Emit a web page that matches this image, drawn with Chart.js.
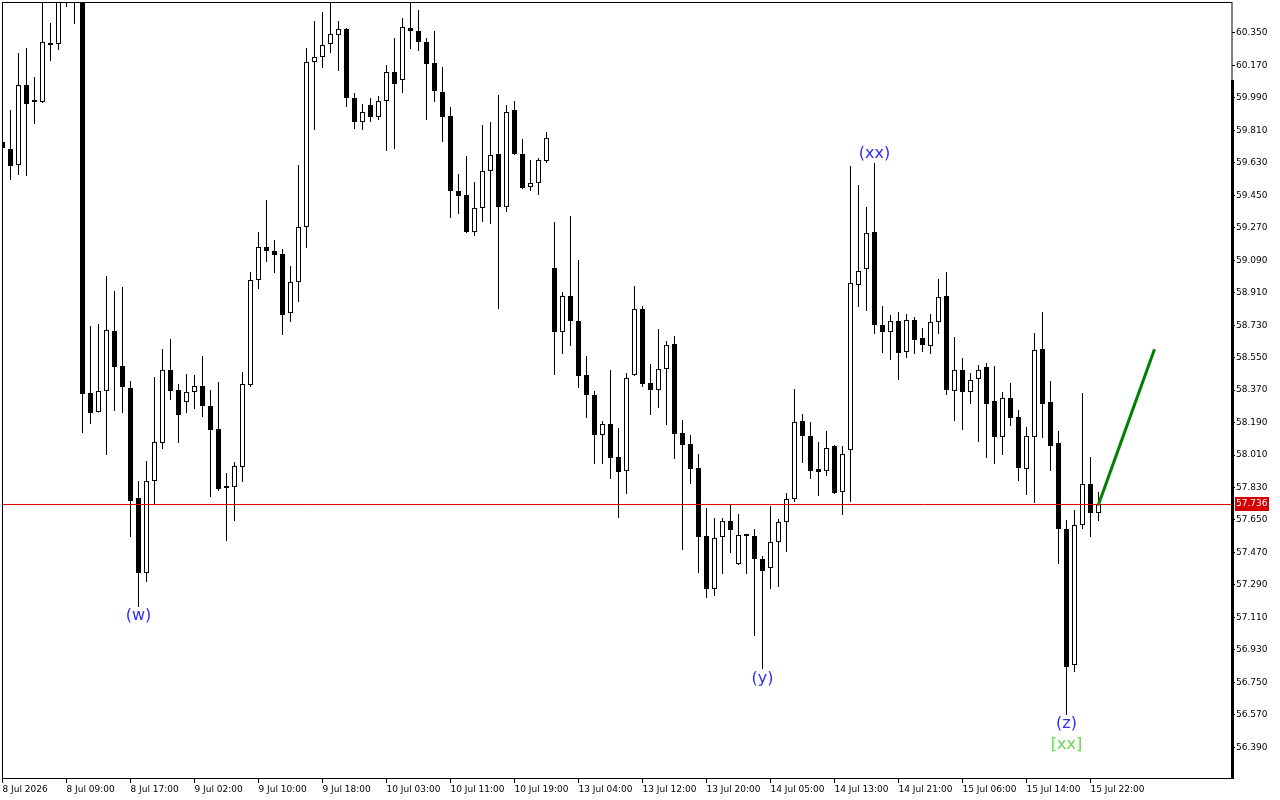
<!DOCTYPE html>
<html>
<head>
<meta charset="utf-8">
<title>Chart</title>
<script src="https://cdn.jsdelivr.net/npm/chart.js@4.4.1/dist/chart.umd.min.js"></script>
<style>
	html, body { margin: 0; padding: 0; background: #ffffff; }
	#mycanvas { display: block; }
</style>
</head>
<body>
<canvas id="mycanvas" width="1280" height="800"></canvas>
<script>
// hourly candles, 8 Jul 2026 00:00 .. 15 Jul 2026 23:00
var openData = [
	59.745, 59.707, 59.618, 60.061, 59.973, 59.967, 60.294, 60.289, 60.560, 60.580,
	60.560, 58.354, 58.249, 58.365, 58.698, 58.504, 58.382, 57.772, 57.356, 57.866,
	58.077, 58.482, 58.371, 58.304, 58.360, 58.393, 58.282, 58.154, 57.839, 57.833,
	57.944, 58.398, 58.980, 59.163, 59.141, 59.125, 58.797, 58.969, 59.274, 60.189,
	60.217, 60.289, 60.338, 60.372, 59.989, 59.856, 59.950, 59.884, 59.973, 60.133,
	60.089, 60.377, 60.361, 60.300, 60.183, 60.023, 59.890, 59.474, 59.452, 59.246,
	59.380, 59.585, 59.679, 59.385, 59.923, 59.679, 59.496, 59.518, 59.640, 59.047,
	58.692, 58.892, 58.753, 58.454, 58.343, 58.121, 58.182, 57.999, 57.922, 58.454,
	58.820, 58.409, 58.371, 58.487, 58.626, 58.132, 58.071, 57.938, 57.561, 57.268,
	57.556, 57.645, 57.406, 57.567, 57.561, 57.434, 57.384, 57.528, 57.639, 57.766,
	58.199, 58.116, 57.933, 57.922, 58.060, 57.805, 58.038, 58.953, 59.041, 59.246,
	58.731, 58.692, 58.753, 58.581, 58.759, 58.659, 58.615, 58.748, 58.892, 58.365,
	58.482, 58.360, 58.432, 58.498, 58.310, 58.110, 58.326, 58.221, 57.933, 58.110,
	58.598, 58.304, 58.077, 57.600, 56.846, 57.622, 57.850, 57.689
];
var highData = [
	59.756, 59.923, 60.239, 60.266, 60.106, 60.560, 60.405, 60.577, 60.620, 60.630,
	60.600, 58.725, 58.737, 59.003, 58.919, 58.942, 58.421, 57.866, 57.977, 58.443,
	58.598, 58.653, 58.404, 58.459, 58.454, 58.559, 58.371, 58.415, 57.911, 57.972,
	58.470, 59.025, 59.246, 59.424, 59.202, 59.152, 59.058, 59.618, 60.266, 60.416,
	60.466, 60.527, 60.416, 60.377, 60.017, 59.956, 59.989, 60.000, 60.172, 60.322,
	60.433, 60.521, 60.477, 60.322, 60.361, 60.161, 59.939, 59.568, 59.668, 59.524,
	59.840, 59.856, 60.006, 59.950, 59.973, 59.762, 59.646, 59.657, 59.801, 59.302,
	58.914, 59.335, 59.091, 58.559, 58.365, 58.199, 58.482, 58.160, 58.465, 58.947,
	58.836, 58.515, 58.709, 58.642, 58.670, 58.204, 58.121, 58.016, 57.717, 57.661,
	57.661, 57.733, 57.683, 57.572, 57.600, 57.450, 57.728, 57.656, 57.800, 58.376,
	58.238, 58.193, 58.082, 58.143, 58.066, 58.060, 59.612, 59.507, 59.385, 59.629,
	58.836, 58.786, 58.803, 58.792, 58.775, 58.714, 58.792, 58.986, 59.025, 58.664,
	58.548, 58.465, 58.509, 58.520, 58.504, 58.360, 58.409, 58.260, 58.166, 58.687,
	58.803, 58.421, 58.143, 57.650, 57.705, 58.354, 57.999, 57.805
];
var lowData = [
	59.701, 59.535, 59.562, 59.557, 59.845, 59.962, 60.194, 60.255, 60.494, 60.399,
	58.132, 58.182, 58.246, 58.010, 58.254, 58.243, 57.556, 57.168, 57.306, 57.739,
	58.044, 58.315, 58.077, 58.243, 58.265, 58.221, 57.778, 57.811, 57.534, 57.645,
	57.861, 58.387, 58.931, 59.080, 59.019, 58.676, 58.748, 58.858, 59.158, 59.812,
	60.156, 60.239, 60.139, 59.939, 59.817, 59.812, 59.856, 59.867, 59.695, 59.707,
	60.017, 60.261, 60.250, 59.867, 59.967, 59.745, 59.324, 59.346, 59.241, 59.224,
	59.302, 59.291, 58.820, 59.357, 59.673, 59.485, 59.474, 59.452, 59.629, 58.454,
	58.570, 58.615, 58.382, 58.215, 57.960, 57.960, 57.877, 57.661, 57.794, 58.448,
	58.387, 58.232, 58.271, 58.177, 57.988, 57.484, 57.850, 57.356, 57.218, 57.229,
	57.351, 57.467, 57.401, 57.351, 57.007, 56.824, 57.268, 57.279, 57.473, 57.750,
	57.966, 57.877, 57.783, 57.894, 57.794, 57.678, 57.750, 58.831, 58.809, 58.681,
	58.576, 58.537, 58.426, 58.548, 58.570, 58.581, 58.570, 58.681, 58.343, 58.199,
	58.149, 58.293, 58.082, 57.994, 57.960, 58.010, 58.171, 57.866, 57.789, 57.744,
	58.105, 57.922, 57.406, 56.569, 56.807, 57.600, 57.556, 57.645
];
var closeData = [
	59.712, 59.612, 60.061, 59.956, 59.967, 60.300, 60.283, 60.544, 60.530, 60.535,
	58.348, 58.243, 58.365, 58.703, 58.498, 58.387, 57.755, 57.356, 57.866, 58.082,
	58.482, 58.365, 58.232, 58.360, 58.393, 58.282, 58.149, 57.822, 57.827, 57.949,
	58.404, 58.980, 59.163, 59.141, 59.119, 58.786, 58.969, 59.274, 60.189, 60.217,
	60.283, 60.344, 60.372, 59.989, 59.856, 59.912, 59.884, 59.973, 60.133, 60.067,
	60.383, 60.361, 60.300, 60.178, 60.028, 59.884, 59.474, 59.446, 59.246, 59.380,
	59.585, 59.673, 59.385, 59.912, 59.679, 59.490, 59.518, 59.646, 59.768, 58.692,
	58.892, 58.753, 58.448, 58.343, 58.121, 58.182, 57.994, 57.916, 58.437, 58.820,
	58.404, 58.371, 58.487, 58.620, 58.127, 58.066, 57.933, 57.556, 57.268, 57.550,
	57.645, 57.594, 57.567, 57.561, 57.434, 57.367, 57.528, 57.639, 57.766, 58.193,
	58.116, 57.922, 57.916, 58.049, 57.800, 58.016, 58.964, 59.030, 59.241, 58.731,
	58.692, 58.753, 58.576, 58.759, 58.648, 58.620, 58.748, 58.886, 58.371, 58.482,
	58.360, 58.426, 58.482, 58.293, 58.110, 58.326, 58.215, 57.938, 58.116, 58.592,
	58.293, 58.060, 57.600, 56.835, 57.622, 57.850, 57.689, 57.736
];

// one label every 8 bars
var tickLabels = [
	'8 Jul 2026', '8 Jul 09:00', '8 Jul 17:00', '9 Jul 02:00', '9 Jul 10:00', '9 Jul 18:00',
	'10 Jul 03:00', '10 Jul 11:00', '10 Jul 19:00', '13 Jul 04:00', '13 Jul 12:00', '13 Jul 20:00',
	'14 Jul 05:00', '14 Jul 13:00', '14 Jul 21:00', '15 Jul 06:00', '15 Jul 14:00', '15 Jul 22:00'
];
var yTicks = [
	56.39, 56.57, 56.75, 56.93, 57.11, 57.29, 57.47, 57.65, 57.83, 58.01, 58.19, 58.37,
	58.55, 58.73, 58.91, 59.09, 59.27, 59.45, 59.63, 59.81, 59.99, 60.17, 60.35
];

var lastPrice = 57.736;

// projection line (bar index, price)
var projBars = [137, 144];
var projPrices = [57.736, 58.596];

// wave marks
var waveText = ['(w)', '(y)', '(xx)', '(z)', '[xx]'];
var waveBar = [17, 95, 109, 133, 133];
var wavePrice = [57.118, 56.772, 59.679, 56.522, 56.402];
var waveColor = ['#2b2bff', '#2b2bff', '#2b2bff', '#2b2bff', '#66d84a'];

var bodies = [];
var wicks = [];
for (var i = 0; i < openData.length; i++) {
	bodies.push({x: i, y: [openData[i], closeData[i]]});
	wicks.push({x: i, y: [lowData[i], highData[i]]});
}

var extras = {
	id: 'extras',
	beforeDraw: function(chart){
		var c = chart.ctx;
		c.save();
		c.fillStyle = '#ffffff';
		c.fillRect(0, 0, chart.width, chart.height);
		c.restore();
	},
	afterDatasetsDraw: function(chart){
		var c = chart.ctx;
		var xs = chart.scales.x, ys = chart.scales.y;
		var a = chart.chartArea;
		c.save();
		c.font = '16px "DejaVu Sans"';
		c.textAlign = 'center';
		c.textBaseline = 'middle';
		for (var k = 0; k < waveText.length; k++) {
			c.fillStyle = waveColor[k];
			c.fillText(waveText[k], xs.getPixelForValue(waveBar[k]), ys.getPixelForValue(wavePrice[k]));
		}
		// frame
		c.strokeStyle = '#000000';
		c.lineWidth = 1;
		c.strokeRect(a.left + 0.5, a.top + 0.5, a.right - a.left - 0.5, a.bottom - a.top);
		c.fillStyle = '#000000';
		c.fillRect(a.right - 1, 80, 3, a.bottom - 80 + 1);
		// last price tag
		var py = Math.round(ys.getPixelForValue(lastPrice));
		c.fillStyle = '#d40000';
		c.fillRect(a.right + 3, py - 7, 34, 14);
		c.fillStyle = '#ffffff';
		c.font = '9px "DejaVu Sans"';
		c.textAlign = 'left';
		c.fillText(lastPrice.toFixed(3), a.right + 4, py);
		c.restore();
	}
};

var ctx = document.getElementById('mycanvas');
var candleChart = new Chart(ctx, {
	type: 'bar',
	data: {
		datasets: [
			{
				label: 'Price line',
				type: 'line',
				data: [{x: -0.0625, y: lastPrice}, {x: 153.6875, y: lastPrice}],
				borderColor: '#e00000',
				borderWidth: 1,
				pointRadius: 0,
				clip: 0,
				order: -1
			},
			{
				label: 'Projection',
				type: 'line',
				data: [{x: projBars[0], y: projPrices[0]}, {x: projBars[1], y: projPrices[1]}],
				borderColor: '#008000',
				borderWidth: 3,
				pointRadius: 0,
				order: -2
			},
			{
				label: 'Body',
				data: bodies,
				backgroundColor: function(c){
					var i = c.dataIndex;
					return closeData[i] >= openData[i] ? '#ffffff' : '#000000';
				},
				borderColor: '#000000',
				borderWidth: 1,
				borderSkipped: false,
				barThickness: 5,
				minBarLength: 2,
				inflateAmount: 0,
				grouped: false,
				clip: 0,
				order: 0
			},
			{
				label: 'Wick',
				data: wicks,
				backgroundColor: '#000000',
				borderWidth: 0,
				barThickness: 1,
				inflateAmount: 0,
				grouped: false,
				clip: 0,
				order: 1
			}
		]
	},
	options: {
		responsive: false,
		animation: false,
		devicePixelRatio: 1,
		layout: { padding: { left: 2, top: 2, right: 0, bottom: 0 } },
		plugins: {
			legend: { display: false },
			tooltip: { enabled: false }
		},
		scales: {
			x: {
				type: 'linear',
				offset: false,
				min: -0.0625,
				max: 153.6875,
				border: { display: false },
				grid: { offset: false, drawOnChartArea: false, drawTicks: true, tickLength: 5, color: '#000000' },
				ticks: {
					autoSkip: false,
					maxRotation: 0,
					minRotation: 0,
					align: 'start',
					padding: 1,
					color: '#000000',
					font: { family: 'DejaVu Sans', size: 9 },
					callback: function(v){ return tickLabels[v / 8]; }
				},
				afterBuildTicks: function(s){
					var t = [];
					for (var k = 0; k < tickLabels.length; k++) t.push({value: k * 8});
					s.ticks = t;
				},
				afterFit: function(s){
					s.height = 22;
					s.paddingLeft = 0;
					s.paddingRight = 0;
				}
			},
			y: {
				position: 'right',
				min: 56.2198,
				max: 60.5214,
				border: { display: false },
				grid: { drawOnChartArea: false, drawTicks: true, tickLength: 3, color: '#000000' },
				ticks: {
					autoSkip: false,
					padding: 1,
					color: '#000000',
					font: { family: 'DejaVu Sans', size: 9 },
					callback: function(v){ return v.toFixed(3); }
				},
				afterBuildTicks: function(s){
					s.ticks = yTicks.map(function(v){ return {value: v}; });
				},
				afterFit: function(s){
					s.width = 48;
					s.paddingTop = 0;
					s.paddingBottom = 0;
				}
			}
		}
	},
	plugins: [extras]
});
</script>
</body>
</html>
